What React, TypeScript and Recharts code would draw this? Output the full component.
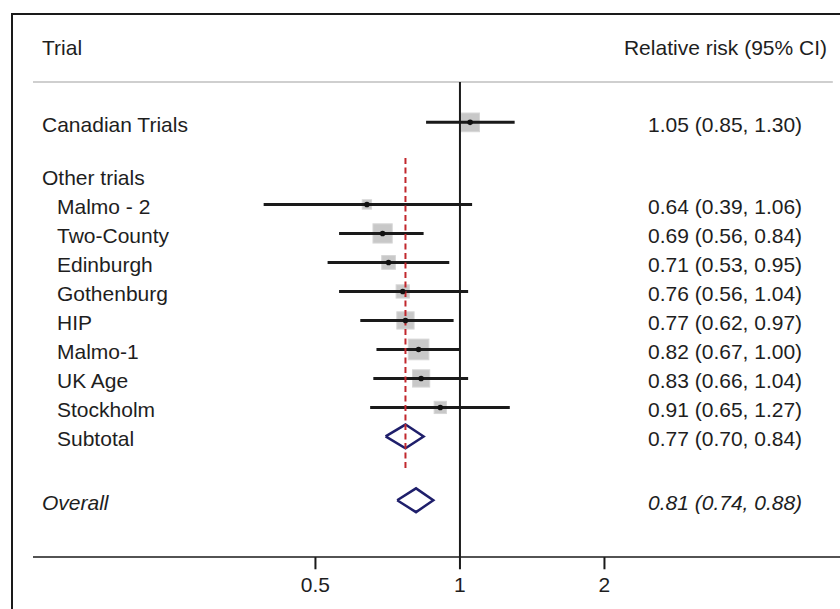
import { ComposedChart, XAxis, YAxis, Scatter } from 'recharts'

// study data (relative risk with 95% CI, weight in %)
const trials = ['Canadian Trials', 'Malmo - 2', 'Two-County', 'Edinburgh', 'Gothenburg', 'HIP', 'Malmo-1', 'UK Age', 'Stockholm']
const riskRatio = [1.05, 0.64, 0.69, 0.71, 0.76, 0.77, 0.82, 0.83, 0.91]
const ciLower = [0.85, 0.39, 0.56, 0.53, 0.56, 0.62, 0.67, 0.66, 0.65]
const ciUpper = [1.30, 1.06, 0.84, 0.95, 1.04, 0.97, 1.00, 1.04, 1.27]
const weights = [14.9, 3.7, 15.8, 8.0, 7.5, 12.7, 18.2, 12.7, 6.4]

const subtotal = { rr: 0.77, lo: 0.70, hi: 0.84 }
const overall = { rr: 0.81, lo: 0.74, hi: 0.88 }

const xTicks = [0.5, 1, 2]

// layout: vertical slot of each row (one unit = one text line)
const Y_HEADER = -2.5
const Y_RULE = -1.22
const Y_CANADA = 0.17
const Y_OTHER = 2
const Y_STUDY = [Y_CANADA, 3, 4, 5, 6, 7, 8, 9, 10]
const Y_SUB = 11
const Y_OVERALL = 13.2
const Y_AXIS = 15.16
const Y_TICK_END = 15.58
const Y_TICK_LABEL = 16.12
const Y_DOMAIN: [number, number] = [-3.36, 16.95]
const X_DOMAIN: [number, number] = [0.129, 6.19]

const FONT = '"Liberation Sans", Arial, Helvetica, sans-serif'
const TEXT = '#1e1e1e'
const INK = '#1a1a1a'
const NAVY = '#1f1f6b'

const fmt = (v: number) => v.toFixed(2)
const ciText = (rr: number, lo: number, hi: number) => `${fmt(rr)} (${fmt(lo)}, ${fmt(hi)})`

type Row = { y: number; label: string; indent?: boolean; italic?: boolean; right?: string; header?: boolean }

const rows: Row[] = [
  { y: Y_HEADER, label: 'Trial', right: 'Relative risk (95% CI)', header: true },
  { y: Y_CANADA, label: trials[0], right: ciText(riskRatio[0], ciLower[0], ciUpper[0]) },
  { y: Y_OTHER, label: 'Other trials' },
  ...trials.slice(1).map((t, i) => ({
    y: Y_STUDY[i + 1],
    label: t,
    indent: true,
    right: ciText(riskRatio[i + 1], ciLower[i + 1], ciUpper[i + 1])
  })),
  { y: Y_SUB, label: 'Subtotal', indent: true, right: ciText(subtotal.rr, subtotal.lo, subtotal.hi) },
  { y: Y_OVERALL, label: 'Overall', italic: true, right: ciText(overall.rr, overall.lo, overall.hi) }
]

const studyPoints = trials.map((t, i) => ({ name: t, x: riskRatio[i], y: Y_STUDY[i], w: weights[i] }))
const tickPoints = xTicks.map((t) => ({ x: t, y: Y_AXIS, label: String(t) }))

const diamond = (d: { rr: number; lo: number; hi: number }, y: number) => [
  { x: d.lo, y },
  { x: d.rr, y: y - 0.41 },
  { x: d.hi, y },
  { x: d.rr, y: y + 0.41 },
  { x: d.lo, y }
]

const Nothing = () => <g />

function WeightBox(props: any) {
  const { cx, cy, payload } = props
  const s = 4.84 * Math.sqrt(payload.w)
  return <rect x={cx - s / 2} y={cy - s / 2} width={s} height={s} fill="#c8c8c8" stroke="#d6d6d6" strokeWidth={1} />
}

function CenterDot(props: any) {
  const { cx, cy } = props
  return <circle cx={cx} cy={cy} r={2.8} fill="#111" />
}

// tick mark hanging below the axis, with its label underneath
function AxisTick(props: any) {
  const { cx, cy, payload } = props
  const unit = 29
  const tickLen = (Y_TICK_END - Y_AXIS) * unit
  const labelY = cy + (Y_TICK_LABEL - Y_AXIS) * unit
  return (
    <g>
      <rect x={cx - 1} y={cy} width={2} height={tickLen} fill={INK} />
      <text x={cx} y={labelY} dy={7} textAnchor="middle" fontFamily={FONT} fontSize={21} fill={TEXT}>
        {payload.label}
      </text>
    </g>
  )
}

function rowTick(props: any) {
  const { y, payload } = props
  const row = rows.find((r) => Math.abs(r.y - Number(payload.value)) < 1e-6)
  if (!row) return <g />
  const style = row.italic ? 'italic' : 'normal'
  return (
    <g>
      <text x={row.indent ? 57 : 42} y={y} dy={10} textAnchor="start" fontFamily={FONT} fontSize={21} fill={TEXT} fontStyle={style}>
        {row.label}
      </text>
      {row.right && (
        <text
          x={row.header ? 827 : 648}
          y={y}
          dy={10}
          textAnchor={row.header ? 'end' : 'start'}
          fontFamily={FONT}
          fontSize={21}
          fill={TEXT}
          fontStyle={style}
        >
          {row.right}
        </text>
      )}
    </g>
  )
}

const segment = (key: string, pts: { x: number; y: number }[], line: any) => (
  <Scatter key={key} data={pts} line={line} shape={<Nothing />} isAnimationActive={false} />
)

export default function App() {
  return (
    <div style={{ position: 'absolute', left: 0, top: 0, width: 840, height: 609, background: '#fff', fontFamily: FONT }}>
      <div
        style={{
          position: 'absolute',
          left: 11,
          top: 13,
          width: 840,
          height: 620,
          borderTop: '2px solid #1a1a1a',
          borderLeft: '2px solid #1a1a1a'
        }}
      />
      <div style={{ position: 'absolute', left: 0, top: 0 }}>
        <ComposedChart width={840} height={609} margin={{ top: 20, right: 0, bottom: 0, left: 3 }}>
          <XAxis dataKey="x" type="number" scale="log" domain={X_DOMAIN} allowDataOverflow hide />
          <YAxis
            dataKey="y"
            type="number"
            domain={Y_DOMAIN}
            allowDataOverflow
            reversed
            width={30}
            ticks={rows.map((r) => r.y)}
            interval={0}
            axisLine={false}
            tickLine={false}
            tick={rowTick}
          />

          {/* header rule */}
          {segment('rule', [{ x: X_DOMAIN[0], y: Y_RULE }, { x: 5.98, y: Y_RULE }], { stroke: '#cfcfcf', strokeWidth: 2 })}

          {/* weight boxes */}
          <Scatter data={studyPoints} shape={<WeightBox />} isAnimationActive={false} />

          {/* confidence intervals */}
          {trials.map((t, i) =>
            segment(t, [{ x: ciLower[i], y: Y_STUDY[i] }, { x: ciUpper[i], y: Y_STUDY[i] }], { stroke: INK, strokeWidth: 3 })
          )}

          {/* line of no effect */}
          {segment('null', [{ x: 1, y: Y_RULE }, { x: 1, y: Y_AXIS }], { stroke: INK, strokeWidth: 2 })}

          {/* pooled diamonds */}
          {segment('sub', diamond(subtotal, Y_SUB), { stroke: NAVY, strokeWidth: 2.5, strokeLinejoin: 'miter' })}
          {segment('all', diamond(overall, Y_OVERALL), { stroke: NAVY, strokeWidth: 2.5, strokeLinejoin: 'miter' })}

          {/* subtotal estimate */}
          {segment('subline', [{ x: subtotal.rr, y: 1.4 }, { x: subtotal.rr, y: 12.09 }], {
            stroke: '#c1272d',
            strokeWidth: 2,
            strokeDasharray: '6 3.5'
          })}

          <Scatter data={studyPoints} shape={<CenterDot />} isAnimationActive={false} />

          {/* x axis: line, tick marks, labels */}
          {segment('axis', [{ x: X_DOMAIN[0], y: Y_AXIS }, { x: X_DOMAIN[1], y: Y_AXIS }], { stroke: INK, strokeWidth: 1.5 })}
          <Scatter data={tickPoints} shape={<AxisTick />} isAnimationActive={false} />
        </ComposedChart>
      </div>
    </div>
  )
}
